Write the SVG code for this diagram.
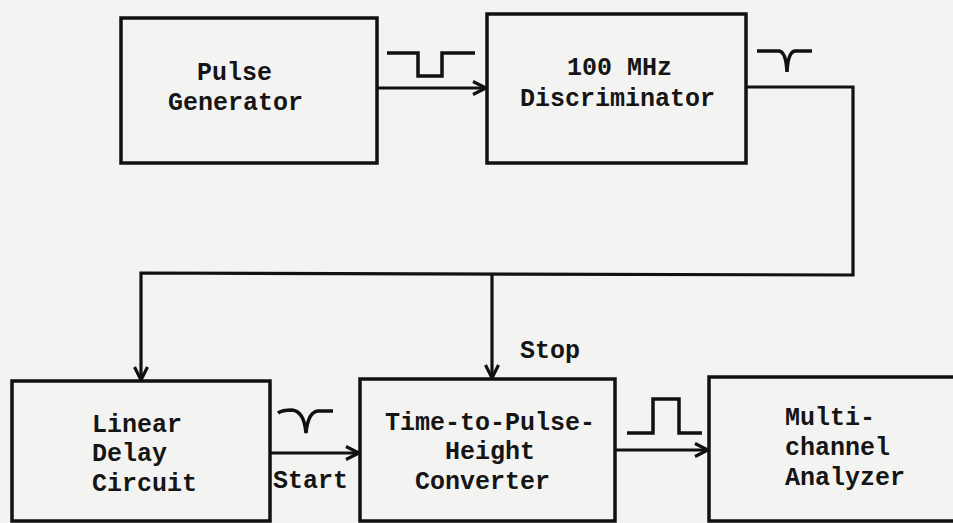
<svg xmlns="http://www.w3.org/2000/svg" width="953" height="523" viewBox="0 0 953 523">
<style>
.box{fill:none;stroke:#111;stroke-width:3.5}
.wire{fill:none;stroke:#111;stroke-width:3.2}
.sig{fill:none;stroke:#111;stroke-width:3.5;stroke-linejoin:miter}
text{font-family:"Liberation Mono","DejaVu Sans Mono",monospace;font-size:25px;fill:#151515;font-weight:bold}
</style>
<defs>
<marker id="arr" viewBox="0 0 16 16" refX="15" refY="8" markerWidth="16" markerHeight="16" markerUnits="userSpaceOnUse" orient="auto">
<path d="M2 1.5 L15 8 L2 14.5" fill="none" stroke="#111" stroke-width="3.2"/>
</marker>
</defs>
<rect width="953" height="523" fill="#f3f3f1"/>
<g id="pulse-generator">
<rect class="box" x="121" y="18" width="256" height="145"/>
<text x="197" y="80">Pulse</text>
<text x="168" y="110">Generator</text>
</g>
<g id="discriminator">
<rect class="box" x="487" y="14" width="259" height="149"/>
<text x="567" y="75">100 MHz</text>
<text x="520" y="106">Discriminator</text>
</g>
<g id="linear-delay">
<rect class="box" x="12" y="381" width="258" height="140"/>
<text x="92" y="432">Linear</text>
<text x="92" y="461">Delay</text>
<text x="92" y="491">Circuit</text>
</g>
<g id="tphc">
<rect class="box" x="360" y="379" width="255" height="142"/>
<text x="385" y="430">Time-to-Pulse-</text>
<text x="445" y="459">Height</text>
<text x="415" y="489">Converter</text>
</g>
<g id="mca">
<rect class="box" x="709" y="377" width="260" height="144"/>
<text x="785" y="425">Multi-</text>
<text x="785" y="455">channel</text>
<text x="785" y="485">Analyzer</text>
</g>
<g id="connectors">
<line class="wire" x1="377" y1="88" x2="486" y2="88" marker-end="url(#arr)"/>
<polyline class="wire" points="746,87 853,87 853,275 141,273 141,380" marker-end="url(#arr)"/>
<line class="wire" x1="492" y1="274" x2="492" y2="378" marker-end="url(#arr)"/>
<line class="wire" x1="270" y1="453" x2="359" y2="453" marker-end="url(#arr)"/>
<line class="wire" x1="615" y1="450" x2="708" y2="450" marker-end="url(#arr)"/>
</g>
<g id="signals">
<polyline class="sig" points="387,53 418,53 418,76 442,76 442,53 475,53"/>
<path class="sig" d="M757 51 L779 51 Q786 52 787 72 Q788 52 795 51 L812 51"/>
<path class="sig" d="M278 413 Q282 410 292 410 Q304 411 306 433 Q308 412 318 411 L333 411"/>
<polyline class="sig" points="627,433 653,433 653,399 679,399 679,433 702,433"/>
<text x="273" y="488">Start</text>
<text x="520" y="358">Stop</text>
</g>
</svg>
